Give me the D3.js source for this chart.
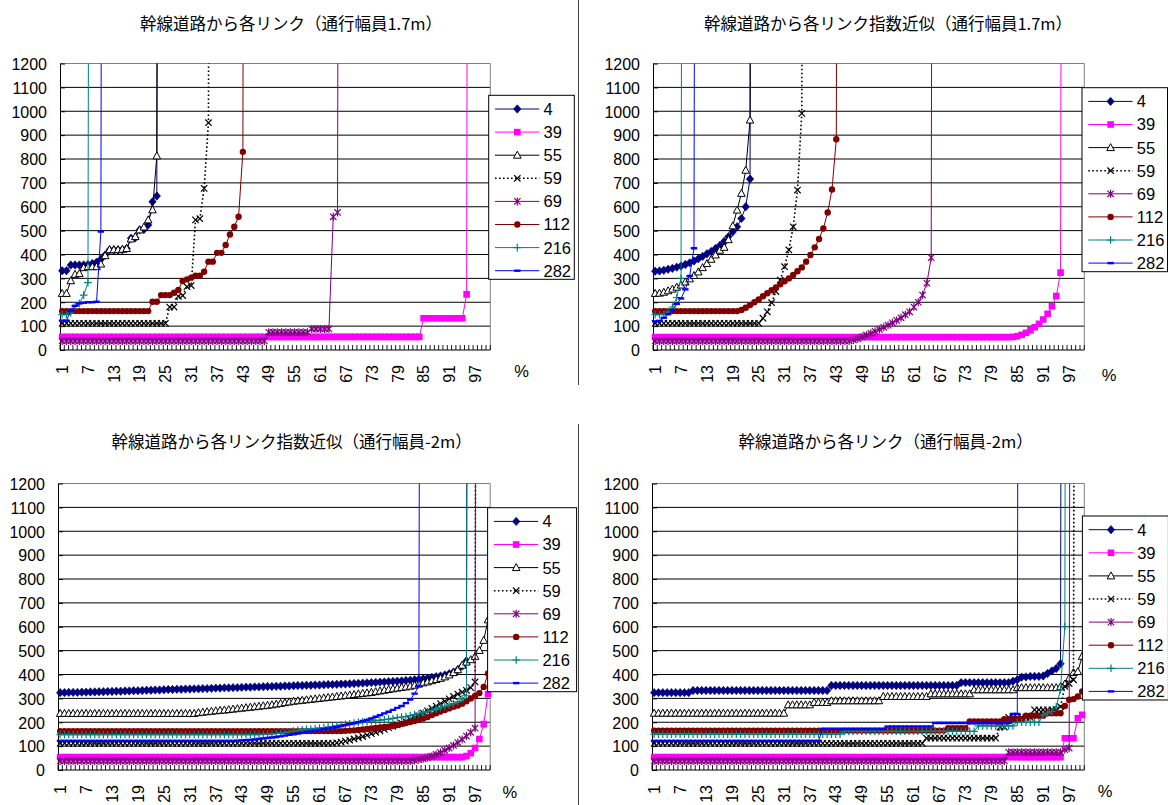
<!DOCTYPE html>
<html><head><meta charset="utf-8">
<script src="https://cdn.jsdelivr.net/npm/d3@7"></script>
<style>
html,body{margin:0;padding:0;background:#fff;}
svg{display:block;}
</style></head>
<body>
<svg id="chart" width="1168" height="805"></svg>
<script>
// Percentile positions 1..100 on the category axis
const categories = d3.range(1, 101);
const tickLabels = [1, 7, 13, 19, 25, 31, 37, 43, 49, 55, 61, 67, 73, 79, 85, 91, 97];
const yTicks = [0, 100, 200, 300, 400, 500, 600, 700, 800, 900, 1000, 1100, 1200];
const seriesNames = ["4", "39", "55", "59", "69", "112", "216", "282"];

// 9999 marks the first point past the axis maximum (curve leaves the chart)

// ---- 幹線道路から各リンク（通行幅員1.7m）
const p1_s4 = [332,332,356,356,356,356,358,362,368,380,
  398,419,419,419,420,425,468,470,503,505,
  524,621,645,9999];
const p1_s39 = [55,55,55,55,55,55,55,55,55,55,
  55,55,55,55,55,55,55,55,55,55,
  55,55,55,55,55,55,55,55,55,55,
  55,55,55,55,55,55,55,55,55,55,
  55,55,55,55,55,55,55,55,55,55,
  55,55,55,55,55,55,55,55,55,55,
  55,55,55,55,55,55,55,55,55,55,
  55,55,55,55,55,55,55,55,55,55,
  55,55,55,55,133,133,133,133,133,133,
  133,133,133,133,233,9999];
const p1_s55 = [237,237,290,317,320,345,349,349,349,360,
  395,420,420,420,422,425,465,475,503,515,
  545,587,813,9999];
const p1_s59 = [112,112,112,112,112,112,112,112,112,112,
  112,112,112,112,112,112,112,112,112,112,
  112,112,112,112,112,180,180,225,228,265,
  270,545,550,677,952,9999];
const p1_s69 = [38,38,38,38,38,38,38,38,38,38,
  38,38,38,38,38,38,38,38,38,38,
  38,38,38,38,38,38,38,38,38,38,
  38,38,38,38,38,38,38,38,38,38,
  38,38,38,38,38,38,38,38,74,74,
  74,74,74,74,74,74,74,74,88,88,
  88,88,88,558,576,9999];
const p1_s112 = [163,163,163,163,163,163,163,163,163,163,
  163,163,163,163,163,163,163,163,163,163,
  163,202,202,230,230,230,240,251,289,296,
  303,311,311,328,370,370,407,407,440,484,
  516,558,830,9999];
const p1_s216 = [148,148,155,185,195,230,282,9999];
const p1_s282 = [123,123,165,185,195,198,200,200,202,496,9999];

// ---- 幹線道路から各リンク指数近似（通行幅員1.7m）
const p2_s4 = [330,331,334,338,342,347,352,358,365,373,
  382,392,403,413,425,438,455,475,495,516,
  551,600,716,9999];
const p2_s39 = [54,54,54,54,54,54,54,54,54,54,
  54,54,54,54,54,54,54,54,54,54,
  54,54,54,54,54,54,54,54,54,54,
  54,54,54,54,54,54,54,54,54,54,
  54,54,54,54,54,54,54,54,54,54,
  54,54,54,54,54,54,54,54,54,54,
  54,54,54,54,54,54,54,54,54,54,
  54,54,54,54,54,54,54,54,54,54,
  54,54,54,55,58,64,72,82,95,110,
  128,152,183,226,324,9999];
const p2_s55 = [237,238,242,248,255,263,272,285,298,312,
  327,345,362,380,398,418,430,462,520,586,
  656,753,963,9999];
const p2_s59 = [112,112,112,112,112,112,112,112,112,112,
  112,112,112,112,112,112,112,112,112,112,
  112,112,112,112,112,133,160,198,245,293,
  349,419,516,670,991,9999];
const p2_s69 = [38,38,38,38,38,38,38,38,38,38,
  38,38,38,38,38,38,38,38,38,38,
  38,38,38,38,38,38,38,38,38,38,
  38,38,38,38,38,38,38,38,38,38,
  38,38,38,38,38,38,42,47,55,62,
  70,78,86,95,104,114,124,135,148,160,
  180,200,230,280,387,9999];
const p2_s112 = [163,163,163,163,163,163,163,163,163,163,
  163,163,163,163,163,163,163,163,163,163,
  168,177,188,200,212,225,238,250,262,275,
  288,300,314,330,346,370,398,430,465,509,
  576,672,883,9999];
const p2_s216 = [148,148,150,160,180,220,300,9999];
const p2_s282 = [120,122,135,150,167,193,216,254,310,426,9999];

// ---- 幹線道路から各リンク指数近似（通行幅員-2m）
const p3_s4 = [324,324,325,325,325,326,326,327,327,328,
  328,329,329,330,330,331,331,332,332,333,
  334,334,335,335,336,337,337,338,338,339,
  339,340,340,341,341,342,343,343,344,344,
  345,345,346,347,347,348,348,349,350,350,
  351,351,352,352,353,354,354,355,355,356,
  356,357,358,358,359,360,360,361,362,363,
  364,365,366,367,368,369,370,371,372,373,
  375,376,378,380,382,385,388,391,394,398,
  403,410,420,435,457,9999];
const p3_s39 = [54,54,54,54,54,54,54,54,54,54,
  54,54,54,54,54,54,54,54,54,54,
  54,54,54,54,54,54,54,54,54,54,
  54,54,54,54,54,54,54,54,54,54,
  54,54,54,54,54,54,54,54,54,54,
  54,54,54,54,54,54,54,54,54,54,
  54,54,54,54,54,54,54,54,54,54,
  54,54,54,54,54,54,54,54,54,54,
  54,54,54,54,54,54,54,54,54,54,
  54,54,54,54,58,70,92,130,192,318];
const p3_s55 = [237,237,237,237,237,237,237,237,237,237,
  237,237,237,237,237,237,237,237,237,237,
  237,237,237,237,237,237,237,237,237,237,
  237,237,240,242,244,246,248,250,251,253,
  255,257,259,261,263,265,267,269,271,273,
  276,279,282,285,288,290,292,294,296,298,
  300,302,304,306,308,310,312,314,316,319,
  321,323,325,328,331,334,337,340,343,346,
  348,351,355,360,365,369,374,379,384,390,
  398,408,420,439,452,462,476,501,543,629];
const p3_s59 = [112,112,112,112,112,112,112,112,112,112,
  112,112,112,112,112,112,112,112,112,112,
  112,112,112,112,112,112,112,112,112,112,
  112,112,112,112,112,112,112,112,112,112,
  112,112,112,112,112,112,112,112,112,112,
  112,112,112,112,112,112,112,112,112,112,
  112,112,112,112,114,117,121,125,130,135,
  140,146,152,158,164,170,177,183,189,196,
  203,211,219,228,238,248,258,268,278,288,
  298,308,318,326,334,345,369,9999];
const p3_s69 = [38,38,38,38,38,38,38,38,38,38,
  38,38,38,38,38,38,38,38,38,38,
  38,38,38,38,38,38,38,38,38,38,
  38,38,38,38,38,38,38,38,38,38,
  38,38,38,38,38,38,38,38,38,38,
  38,38,38,38,38,38,38,38,38,38,
  38,38,38,38,38,38,38,38,38,38,
  38,38,38,38,38,38,38,38,38,38,
  38,38,40,43,47,52,58,65,73,82,
  92,103,115,128,142,158,175,9999];
const p3_s112 = [163,163,163,163,163,163,163,163,163,163,
  163,163,163,163,163,163,163,163,163,163,
  163,163,163,163,163,163,163,163,163,163,
  163,163,163,163,163,163,163,163,163,163,
  163,163,163,163,163,163,163,163,163,163,
  163,163,163,163,163,163,163,163,163,163,
  163,163,163,163,163,163,164,165,166,168,
  170,172,174,176,178,180,181,184,188,193,
  197,201,205,210,216,222,230,238,245,251,
  258,265,270,278,288,300,310,322,348,404];
const p3_s216 = [148,148,148,148,148,148,148,148,148,148,
  148,148,148,148,148,148,148,148,148,148,
  148,148,148,148,148,148,148,148,148,148,
  148,148,148,148,148,148,148,148,148,148,
  148,148,148,148,148,148,148,149,150,151,
  153,155,158,160,163,166,168,170,172,174,
  176,178,180,182,185,188,191,194,197,200,
  202,203,205,207,209,211,213,216,219,222,
  224,228,232,236,240,245,250,256,262,266,
  272,278,285,298,313,9999];
const p3_s282 = [122,122,122,122,122,122,122,122,122,122,
  122,122,122,122,122,122,122,122,122,122,
  122,122,122,122,122,122,122,122,122,122,
  122,122,122,122,122,122,122,122,122,122,
  122,123,124,125,126,128,130,132,134,136,
  138,141,144,147,150,153,156,159,162,165,
  168,171,174,177,180,184,188,192,196,200,
  205,210,216,223,230,237,244,252,260,268,
  280,295,320,352,9999];

// ---- 幹線道路から各リンク（通行幅員-2m）
const p4_s4 = [324,324,324,324,324,324,324,324,324,333,
  333,333,333,333,333,333,333,333,333,333,
  333,333,333,333,333,333,333,333,333,333,
  333,333,333,333,333,333,333,333,333,333,
  333,354,354,354,354,354,354,354,354,354,
  354,354,354,354,354,354,354,354,354,354,
  354,354,354,354,354,354,354,354,354,354,
  354,366,366,366,366,366,366,366,366,366,
  366,366,366,372,378,389,390,392,392,392,
  394,404,415,425,445,9999];
const p4_s39 = [54,54,54,54,54,54,54,54,54,54,
  54,54,54,54,54,54,54,54,54,54,
  54,54,54,54,54,54,54,54,54,54,
  54,54,54,54,54,54,54,54,54,54,
  54,54,54,54,54,54,54,54,54,54,
  54,54,54,54,54,54,54,54,54,54,
  54,54,54,54,54,54,54,54,54,54,
  54,54,54,54,54,54,54,54,54,54,
  54,54,54,54,54,54,54,54,54,54,
  54,54,54,54,54,133,133,133,217,231];
const p4_s55 = [238,238,238,238,238,238,238,238,238,238,
  238,238,238,238,238,238,238,238,238,238,
  238,238,238,238,238,238,238,238,238,238,
  238,273,273,273,273,273,273,283,283,283,
  283,290,290,290,290,290,290,290,290,290,
  290,290,290,308,308,308,308,308,308,308,
  308,308,308,308,319,319,319,319,319,319,
  319,319,319,319,336,336,336,336,336,336,
  336,336,336,336,345,345,345,345,345,345,
  345,345,345,345,350,360,385,408,412,476];
const p4_s59 = [112,112,112,112,112,112,112,112,112,112,
  112,112,112,112,112,112,112,112,112,112,
  112,112,112,112,112,112,112,112,112,112,
  112,112,112,112,112,112,112,112,112,112,
  112,112,112,112,112,112,112,112,112,112,
  112,112,112,112,112,112,112,112,112,112,
  112,112,112,133,133,133,133,133,133,133,
  133,133,133,133,133,133,133,133,133,133,
  180,180,220,220,220,220,220,220,252,252,
  252,252,252,252,265,350,362,378,9999];
const p4_s69 = [38,38,38,38,38,38,38,38,38,38,
  38,38,38,38,38,38,38,38,38,38,
  38,38,38,38,38,38,38,38,38,38,
  38,38,38,38,38,38,38,38,38,38,
  38,38,38,38,38,38,38,38,38,38,
  38,38,38,38,38,38,38,38,38,38,
  38,38,38,38,38,38,38,38,38,38,
  38,38,38,38,38,38,38,38,38,38,
  38,38,74,74,74,74,74,74,74,74,
  74,74,74,74,74,85,92,9999];
const p4_s112 = [165,165,165,165,165,165,165,165,165,165,
  165,165,165,165,165,165,165,165,165,165,
  165,165,165,165,165,165,165,165,165,165,
  165,165,165,165,165,165,165,165,165,165,
  165,165,165,165,165,165,165,165,165,165,
  165,165,165,165,165,165,165,165,165,165,
  165,165,165,165,165,165,165,165,175,175,
  175,175,175,203,203,203,203,203,203,203,
  203,213,213,213,213,213,227,227,227,227,
  227,238,238,238,238,268,294,297,308,329];
const p4_s216 = [150,150,150,150,150,150,150,150,150,150,
  150,150,150,150,150,150,150,150,150,150,
  150,150,150,150,150,150,150,150,150,150,
  150,150,150,150,150,150,150,150,150,150,
  150,150,150,150,162,162,162,162,162,162,
  162,162,162,162,162,162,162,162,162,162,
  162,162,162,162,162,162,162,162,162,162,
  162,162,162,162,162,185,185,185,185,185,
  185,185,185,185,200,200,200,200,200,200,
  230,238,245,265,336,601,9999];
const p4_s282 = [122,122,122,122,122,122,122,122,122,122,
  122,122,122,122,122,122,122,122,122,122,
  122,122,122,122,122,122,122,122,122,122,
  122,122,122,122,122,122,122,122,122,172,
  172,172,172,172,172,172,172,172,172,172,
  172,172,172,172,182,182,182,182,182,182,
  182,182,182,182,182,197,197,197,197,197,
  197,197,197,197,197,197,197,197,197,197,
  197,197,197,235,235,9999];

// Series appearance
const seriesStyle = {
  "4":   {color: "#000080", marker: "diamond"},
  "39":  {color: "#FF00FF", marker: "square"},
  "55":  {color: "#000000", marker: "triangle"},
  "59":  {color: "#000000", marker: "x", dash: "1.6,2.4", width: 1.6},
  "69":  {color: "#800080", marker: "star"},
  "112": {color: "#800000", marker: "circle"},
  "216": {color: "#008080", marker: "plus"},
  "282": {color: "#0000FF", marker: "dash"}
};

const panels = [
  {title: "幹線道路から各リンク（通行幅員1.7m）",
   series: [p1_s4, p1_s39, p1_s55, p1_s59, p1_s69, p1_s112, p1_s216, p1_s282],
   plot: {x0: 60, x1: 490.3, y0: 63.5, y1: 350},
   titleAt: [291, 23], legendAt: [488.7, 95.3, 85.6], pctAt: [521.7, 371]},
  {title: "幹線道路から各リンク指数近似（通行幅員1.7m）",
   series: [p2_s4, p2_s39, p2_s55, p2_s59, p2_s69, p2_s112, p2_s216, p2_s282],
   plot: {x0: 653, x1: 1084.3, y0: 63.5, y1: 350},
   titleAt: [888, 23], legendAt: [1082, 87.7, 85.5], pctAt: [1109, 375]},
  {title: "幹線道路から各リンク指数近似（通行幅員-2m）",
   series: [p3_s4, p3_s39, p3_s55, p3_s59, p3_s69, p3_s112, p3_s216, p3_s282],
   plot: {x0: 58, x1: 490.2, y0: 483.5, y1: 770},
   titleAt: [291.6, 441], legendAt: [487.6, 507.7, 89], pctAt: [509.8, 792]},
  {title: "幹線道路から各リンク（通行幅員-2m）",
   series: [p4_s4, p4_s39, p4_s55, p4_s59, p4_s69, p4_s112, p4_s216, p4_s282],
   plot: {x0: 652, x1: 1084.3, y0: 483.5, y1: 770},
   titleAt: [885.6, 441], legendAt: [1082.4, 516, 86], pctAt: [1105, 791]}
];

const LATIN = "'Liberation Sans', Arial, sans-serif";
const CJK = "'Noto Sans CJK JP', 'Noto Sans CJK SC', sans-serif";

function markerPath(type) {
  switch (type) {
    case "diamond":  return "M0,-4.2L3.7,0L0,4.2L-3.7,0Z";
    case "square":   return "M-3.3,-3.3H3.3V3.3H-3.3Z";
    case "triangle": return "M0,-4L3.8,3H-3.8Z";
    case "x":        return "M-3.2,-3.2L3.2,3.2M-3.2,3.2L3.2,-3.2";
    case "star":     return "M-3.2,-3.2L3.2,3.2M-3.2,3.2L3.2,-3.2M0,-4V4";
    case "circle":   return "M3.2,0A3.2,3.2,0,1,1,-3.2,0A3.2,3.2,0,1,1,3.2,0Z";
    case "plus":     return "M-3.8,0H3.8M0,-3.8V3.8";
    case "dash":     return "M-3.2,-1.2H3.2V1.2H-3.2Z";
  }
}
function styleMarker(sel, st) {
  const filled = ["diamond", "square", "circle", "dash"].includes(st.marker);
  if (st.marker === "triangle") {
    sel.attr("fill", "#fff").attr("stroke", st.color).attr("stroke-width", 1);
  } else if (filled) {
    sel.attr("fill", st.color).attr("stroke", st.marker === "diamond" ? st.color : "none").attr("stroke-width", 0.6);
  } else {
    sel.attr("fill", "none").attr("stroke", st.color).attr("stroke-width", 1.2);
  }
}

const svg = d3.select("#chart");
svg.append("rect").attr("width", 1168).attr("height", 805).attr("fill", "#fff");

panels.forEach((cfg, pi) => {
  const {x0, x1, y0, y1} = cfg.plot;
  const g = svg.append("g");
  const xBand = d3.scaleBand().domain(categories).range([x0, x1]);
  const xc = c => xBand(c) + xBand.bandwidth() / 2;
  const y = d3.scaleLinear().domain([0, 1200]).range([y1, y0]);

  // title
  g.append("text").attr("x", cfg.titleAt[0]).attr("y", cfg.titleAt[1])
    .attr("text-anchor", "middle").attr("dominant-baseline", "central")
    .attr("font-family", CJK).attr("font-size", 16.5).attr("fill", "#000")
    .text(cfg.title);

  // horizontal gridlines
  g.append("g").selectAll("line")
    .data(yTicks.filter(v => v > 0 && v < 1200)).join("line")
    .attr("x1", x0).attr("x2", x1).attr("y1", d => y(d)).attr("y2", d => y(d))
    .attr("stroke", "#000").attr("stroke-width", 1);

  // plot border (top and right)
  g.append("path").attr("d", `M${x0},${y0}H${x1}V${y1}`)
    .attr("fill", "none").attr("stroke", "#808080").attr("stroke-width", 1);

  // value axis
  const ya = g.append("g").attr("transform", `translate(${x0},0)`)
    .call(d3.axisLeft(y).tickValues(yTicks).tickFormat(d3.format("d"))
      .tickSizeInner(-5).tickSizeOuter(0).tickPadding(13));
  ya.attr("font-family", LATIN).attr("font-size", 16);
  ya.select(".domain").attr("stroke", "#000");
  ya.selectAll(".tick line").attr("stroke", "#000");
  ya.selectAll(".tick text").attr("fill", "#000").attr("dy", "0.36em");

  // category axis: line, boundary ticks, rotated labels
  g.append("line").attr("x1", x0).attr("x2", x1).attr("y1", y1).attr("y2", y1)
    .attr("stroke", "#000");
  const bounds = categories.map(c => xBand(c)).concat([x1]);
  g.append("g").selectAll("line").data(bounds).join("line")
    .attr("x1", d => d).attr("x2", d => d).attr("y1", y1).attr("y2", y1 - 5)
    .attr("stroke", "#000").attr("stroke-width", 0.9);
  const xa = g.append("g").attr("transform", `translate(0,${y1})`)
    .call(d3.axisBottom(xBand).tickValues(tickLabels).tickSize(0).tickPadding(0));
  xa.select(".domain").remove();
  xa.attr("font-family", LATIN).attr("font-size", 16);
  xa.selectAll(".tick text")
    .attr("transform", "rotate(-90)").attr("x", -15).attr("y", 0)
    .attr("dy", "0.36em").attr("text-anchor", "end").attr("fill", "#000");

  g.append("text").attr("x", cfg.pctAt[0]).attr("y", cfg.pctAt[1])
    .attr("text-anchor", "middle").attr("dominant-baseline", "central")
    .attr("font-family", LATIN).attr("font-size", 16.5).attr("fill", "#000").text("%");

  // series
  const clipId = "clip" + pi;
  svg.append("clipPath").attr("id", clipId).append("rect")
    .attr("x", x0 - 8).attr("y", y0).attr("width", x1 - x0 + 16).attr("height", y1 - y0 + 8);
  const sg = g.append("g").attr("clip-path", `url(#${clipId})`);
  const line = d3.line().x(d => xc(d.c)).y(d => y(d.v));

  cfg.series.forEach((vals, si) => {
    const st = seriesStyle[seriesNames[si]];
    const pts = vals.map((v, i) => ({c: categories[i], v}));
    sg.append("path").datum(pts).attr("d", line)
      .attr("fill", "none").attr("stroke", st.color)
      .attr("stroke-width", st.width || 1)
      .attr("stroke-dasharray", st.dash || null);
    const m = sg.append("g").selectAll("path").data(pts.filter(p => p.v <= 1300)).join("path")
      .attr("transform", d => `translate(${xc(d.c)},${y(d.v)})`)
      .attr("d", markerPath(st.marker));
    styleMarker(m, st);
  });

  // legend
  const [lx, ly, lw] = cfg.legendAt;
  const lg = svg.append("g").attr("transform", `translate(${lx},${ly})`);
  lg.append("rect").attr("width", lw).attr("height", 184)
    .attr("fill", "#fff").attr("stroke", "#000").attr("stroke-width", 1);
  seriesNames.forEach((name, k) => {
    const st = seriesStyle[name];
    const cy = 13.7 + k * 23.1;
    lg.append("line").attr("x1", 6.3).attr("x2", 50.6).attr("y1", cy).attr("y2", cy)
      .attr("stroke", st.color).attr("stroke-width", st.width || 1)
      .attr("stroke-dasharray", st.dash || null);
    const mk = lg.append("path").attr("transform", `translate(28.6,${cy})`).attr("d", markerPath(st.marker));
    styleMarker(mk, st);
    lg.append("text").attr("x", 54.8).attr("y", cy).attr("dy", "0.36em")
      .attr("font-family", LATIN).attr("font-size", 16.5).attr("fill", "#000").text(name);
  });
});

// separators between the four charts
svg.append("line").attr("x1", 578.5).attr("x2", 578.5).attr("y1", 0).attr("y2", 385)
  .attr("stroke", "#404040");
svg.append("line").attr("x1", 578.5).attr("x2", 578.5).attr("y1", 424).attr("y2", 805)
  .attr("stroke", "#404040");
</script>
</body></html>
